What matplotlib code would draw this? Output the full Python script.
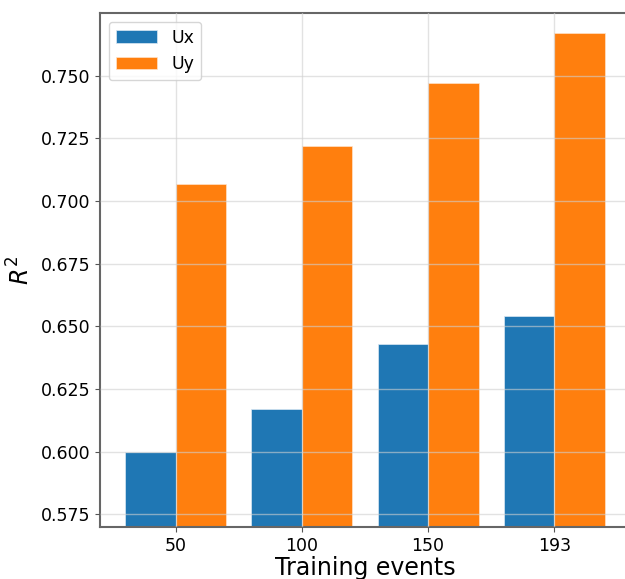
import numpy as np
import matplotlib.pyplot as plt

events = ['50', '100', '150', '193']
r2_ux = [0.600, 0.617, 0.643, 0.654]
r2_uy = [0.707, 0.722, 0.747, 0.767]

x = np.arange(len(events))
width = 0.4

fig = plt.figure(figsize=(6.25, 5.79), dpi=100)
ax = fig.add_axes([0.16, 0.0898, 0.848, 0.8877])

ax.bar(x - width / 2, r2_ux, width, color='#1f77b4', edgecolor='#dbe8f3', linewidth=0.5, label='Ux')
ax.bar(x + width / 2, r2_uy, width, color='#ff7f0e', edgecolor='#ffe3c9', linewidth=0.5, label='Uy')

ax.set_xticks(x)
ax.set_xticklabels(events)
ax.set_yticks([0.575, 0.600, 0.625, 0.650, 0.675, 0.700, 0.725, 0.750])
ax.yaxis.set_major_formatter(plt.FormatStrFormatter('%.3f'))
ax.set_xlim(-0.6, 3.6)
ax.set_ylim(0.57, 0.775)

ax.grid(True, color='#d0d0d0', alpha=0.6, linewidth=1)
ax.set_axisbelow(False)
ax.tick_params(labelsize=12.5, color='#555555')
for s in ax.spines.values():
    s.set_color('#666666')
    s.set_linewidth(1.5)

ax.set_xlabel('Training events', fontsize=17, labelpad=1)
ax.set_ylabel('$R^2$', fontsize=17)
ax.legend(loc='upper left', fontsize=12.5, handlelength=2.4)

fig.savefig('out.png', dpi=100)
